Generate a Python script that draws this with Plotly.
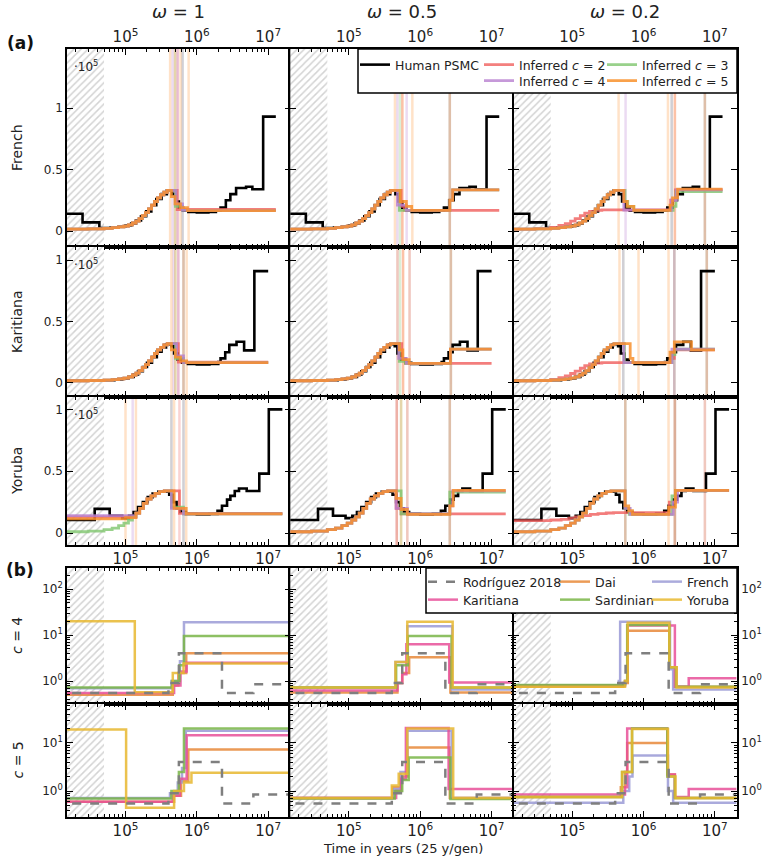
import plotly.graph_objects as go

# ------------------------------------------------------------------ data ---
OMEGAS = ["1", "0.5", "0.2"]
POPS_A = ["French", "Karitiana", "Yoruba"]
C_VALUES = [2, 3, 4, 5]
POPS_B = ["Dai", "French", "Karitiana", "Sardinian", "Yoruba"]

# Human PSMC (units of 1e5), step starts in years
FR_PSMC_T = [10000, 25000, 43000, 62000, 80000, 100000, 120000, 140000, 165000, 195000, 230000, 270000, 320000, 380000,
             450000, 500000, 560000, 640000, 760000, 1000000, 1450000, 1850000, 2150000, 2550000, 2950000, 3550000,
             4900000, 6000000, 8500000]
FR_PSMC_N = [0.14, 0.07, 0.025, 0.028, 0.035, 0.045, 0.06, 0.085, 0.12, 0.16, 0.21, 0.26, 0.30, 0.33,
             0.30, 0.24, 0.19, 0.165, 0.155, 0.15, 0.155, 0.165, 0.19, 0.25, 0.30, 0.35,
             0.36, 0.34, 0.93]
FR_END = 12800000

KA_PSMC_T = [10000, 50000, 70000, 90000, 110000, 130000, 150000, 175000, 200000, 235000, 275000, 320000, 370000,
             440000, 480000, 540000, 620000, 750000, 1000000, 1500000, 2000000, 2150000, 2500000, 2850000, 3600000,
             4600000, 6400000]
KA_PSMC_N = [0.02, 0.022, 0.028, 0.035, 0.05, 0.07, 0.095, 0.13, 0.165, 0.21, 0.255, 0.29, 0.315,
             0.30, 0.24, 0.19, 0.165, 0.155, 0.15, 0.155, 0.17, 0.2, 0.25, 0.31, 0.335,
             0.265, 0.91]
KA_END = 10000000

YO_PSMC_T = [10000, 37000, 60000, 90000, 112000, 130000, 150000, 175000, 205000, 240000, 290000, 410000, 460000,
             520000, 590000, 700000, 1000000, 1500000, 1950000, 2250000, 2650000, 2950000, 3400000, 3900000,
             5000000, 7500000, 10200000]
YO_PSMC_N = [0.105, 0.195, 0.14, 0.12, 0.14, 0.17, 0.21, 0.25, 0.29, 0.32, 0.335, 0.31, 0.25,
             0.2, 0.17, 0.155, 0.15, 0.155, 0.18, 0.22, 0.27, 0.3, 0.34, 0.36,
             0.34, 0.48, 1.0]
YO_END = 15800000

# smooth inferred rise (shared by all c) per population
FR_BASE_T = [10000, 30000, 50000, 65000, 80000, 95000, 110000, 125000, 140000, 155000, 172000, 190000, 210000,
             232000, 255000, 280000, 310000, 345000, 385000]
FR_BASE_N = [0.015, 0.018, 0.022, 0.027, 0.033, 0.04, 0.05, 0.065, 0.08, 0.1, 0.125, 0.15, 0.18,
             0.21, 0.24, 0.27, 0.295, 0.315, 0.33]
KA_BASE_T = [10000, 30000, 50000, 65000, 80000, 95000, 110000, 125000, 140000, 155000, 172000, 190000, 210000,
             232000, 255000, 280000, 310000, 345000, 385000]
KA_BASE_N = [0.018, 0.02, 0.023, 0.027, 0.033, 0.04, 0.05, 0.065, 0.08, 0.1, 0.125, 0.15, 0.18,
             0.21, 0.24, 0.27, 0.29, 0.31, 0.32]
YO_BASE_T = [10000, 30000, 50000, 65000, 80000, 95000, 110000, 125000, 140000, 158000, 178000, 200000, 228000,
             260000, 300000, 350000]
YO_BASE_N = [0.01, 0.015, 0.028, 0.04, 0.06, 0.08, 0.105, 0.13, 0.16, 0.2, 0.24, 0.275, 0.3,
             0.32, 0.335, 0.34]
# low smooth curves of c = 2 at omega = 0.2
FR_LOW_T = [10000, 30000, 50000, 65000, 80000, 95000, 110000, 130000, 150000, 175000, 210000, 260000]
FR_LOW_N = [0.015, 0.02, 0.03, 0.045, 0.06, 0.08, 0.1, 0.125, 0.145, 0.16, 0.168, 0.172]
KA_LOW_T = [10000, 30000, 50000, 65000, 80000, 95000, 110000, 130000, 150000, 175000, 210000, 260000]
KA_LOW_N = [0.018, 0.022, 0.03, 0.043, 0.058, 0.077, 0.097, 0.12, 0.14, 0.155, 0.162, 0.165]
YO_LOW_T = [10000, 50000, 70000, 90000, 110000, 140000, 180000, 230000, 300000, 380000]
YO_LOW_N = [0.1, 0.105, 0.11, 0.12, 0.13, 0.14, 0.15, 0.157, 0.162, 0.165]

# inferred curves: c -> (base, head steps, head end, tail steps)
INF_FR_W1 = {2: ("base", [], 0, [(530000, 0.175)]),
             3: ("base", [], 0, [(500000, 0.2), (630000, 0.168)]),
             4: ("base", [], 0, [(510000, 0.22), (630000, 0.168)]),
             5: ("base", [], 0, [(440000, 0.28), (495000, 0.22), (590000, 0.19), (740000, 0.165)])}
INF_KA_W1 = {2: ("base", [], 0, [(550000, 0.17)]),
             3: ("base", [], 0, [(500000, 0.2), (650000, 0.165)]),
             4: ("base", [], 0, [(520000, 0.22), (650000, 0.165)]),
             5: ("base", [], 0, [(440000, 0.27), (500000, 0.21), (590000, 0.18), (720000, 0.165)])}
INF_YO_W1 = {2: ("base", [(10000, 0.13)], 125000, [(570000, 0.158)]),
             3: ("base", [], 0, [(440000, 0.21), (650000, 0.155)]),
             4: ("base", [(10000, 0.14)], 126000, [(440000, 0.2), (650000, 0.155)]),
             5: ("base", [(10000, 0.115), (100000, 0.125)], 140000, [(480000, 0.2), (710000, 0.155)])}
INF_FR_W05 = {2: ("base", [], 0, [(540000, 0.2), (600000, 0.167)]),
              3: ("base", [], 0, [(510000, 0.167), (2600000, 0.25), (2850000, 0.335)]),
              4: ("base", [], 0, [(480000, 0.21), (640000, 0.167), (2600000, 0.25), (2850000, 0.335)]),
              5: ("base", [], 0, [(525000, 0.24), (640000, 0.2), (760000, 0.167), (2600000, 0.25), (2850000, 0.335)])}
INF_KA_W05 = {2: ("base", [], 0, [(550000, 0.2), (620000, 0.16)]),
              3: ("base", [], 0, [(510000, 0.175), (620000, 0.16), (2650000, 0.275)]),
              4: ("base", [], 0, [(500000, 0.2), (640000, 0.16), (2650000, 0.275)]),
              5: ("base", [], 0, [(510000, 0.27), (570000, 0.19), (700000, 0.16), (2650000, 0.275)])}
INF_YO_W05 = {2: ("base", [], 0, [(460000, 0.2), (540000, 0.155)]),
              3: ("base", [], 0, [(540000, 0.155), (2600000, 0.33)]),
              4: ("base", [], 0, [(460000, 0.2), (660000, 0.155), (2600000, 0.22), (2850000, 0.34)]),
              5: ("base", [], 0, [(460000, 0.28), (540000, 0.19), (660000, 0.15), (2600000, 0.22), (2900000, 0.345)])}
INF_FR_W02 = {2: ("low", [], 0, [(2400000, 0.25), (2800000, 0.335)]),
              3: ("base", [], 0, [(550000, 0.24), (600000, 0.2), (730000, 0.167), (2600000, 0.2), (2850000, 0.32)]),
              4: ("base", [], 0, [(530000, 0.17), (2450000, 0.25), (2900000, 0.335)]),
              5: ("base", [], 0, [(530000, 0.24), (590000, 0.2), (730000, 0.167), (2350000, 0.21), (2550000, 0.27), (3000000, 0.34)])}
INF_KA_W02 = {2: ("low", [], 0, [(2400000, 0.2), (2700000, 0.27)]),
              3: ("base", [], 0, [(540000, 0.165), (2500000, 0.23), (2750000, 0.275)]),
              4: ("base", [], 0, [(530000, 0.165), (2500000, 0.275)]),
              5: ("base", [], 0, [(650000, 0.2), (710000, 0.165), (2350000, 0.25), (2700000, 0.335), (4700000, 0.27)])}
INF_YO_W02 = {2: ("low", [], 0, [(2300000, 0.25), (2800000, 0.345)]),
              3: ("base", [], 0, [(550000, 0.2), (630000, 0.15), (2500000, 0.3), (2800000, 0.345)]),
              4: ("base", [], 0, [(550000, 0.2), (650000, 0.15), (2600000, 0.25), (3000000, 0.345)]),
              5: ("base", [], 0, [(550000, 0.22), (620000, 0.18), (700000, 0.15), (2250000, 0.21), (2800000, 0.345)])}

# change-point marks (years) per c
VL_FR_W1 = {2: [537000], 3: [495000, 631000], 4: [457000, 537000, 631000], 5: [422000, 495000, 590000, 767000]}
VL_KA_W1 = {2: [550000], 3: [500000, 650000], 4: [470000, 550000, 650000], 5: [440000, 500000, 650000, 720000]}
VL_YO_W1 = {2: [570000], 3: [440000, 650000], 4: [126000, 440000, 650000], 5: [100000, 140000, 480000, 710000]}
VL_FR_W05 = {2: [562000], 3: [520000, 2600000], 4: [479000, 646000, 2600000], 5: [443000, 562000, 776000, 2600000]}
VL_KA_W05 = {2: [575000], 3: [520000, 2690000], 4: [480000, 710000, 2690000], 5: [480000, 575000, 710000, 2690000]}
VL_YO_W05 = {2: [470000], 3: [540000, 2600000], 4: [470000, 660000, 2600000], 5: [470000, 540000, 660000, 2600000]}
VL_FR_W02 = {2: [2750000], 3: [2480000, 7240000], 4: [560000, 2480000, 7240000], 5: [447000, 2200000, 2750000, 7240000]}
VL_KA_W02 = {2: [2700000], 3: [520000, 2700000, 7700000], 4: [520000, 2700000, 7700000], 5: [460000, 850000, 2240000, 7700000]}
VL_YO_W02 = {2: [2750000], 3: [555000, 2750000], 4: [555000, 2750000, 7240000], 5: [555000, 2240000, 2750000, 7240000]}

# (b) inferred scaling per population, step starts in years
RODRIGUEZ_T = [10000, 400000, 560000, 2250000, 6200000]
RODRIGUEZ_N = [0.55, 0.9, 4.0, 0.55, 0.85]
B_END = 20000000
B_C4_W1 = {"Dai": [(10000, 0.5), (460000, 0.8), (550000, 1.5), (710000, 4.0)],
           "French": [(10000, 0.7), (440000, 1.0), (580000, 2.7), (660000, 19)],
           "Karitiana": [(10000, 0.55), (480000, 0.8), (590000, 1.6), (720000, 2.5)],
           "Sardinian": [(10000, 0.72), (450000, 1.0), (570000, 2.2), (660000, 9.5)],
           "Yoruba": [(10000, 20), (135000, 0.57), (460000, 1.5), (650000, 2.4)]}
B_C4_W05 = {"Dai": [(10000, 0.56), (480000, 0.9), (560000, 1.5), (700000, 3.3), (2650000, 0.56)],
            "French": [(10000, 0.72), (450000, 2.6), (660000, 15.5), (2800000, 0.65)],
            "Karitiana": [(10000, 0.62), (480000, 0.9), (560000, 1.4), (640000, 6.3), (2550000, 0.93)],
            "Sardinian": [(10000, 0.72), (460000, 2.2), (670000, 9.5), (2750000, 0.72)],
            "Yoruba": [(10000, 0.72), (450000, 2.6), (660000, 19.5), (2850000, 0.72)]}
B_C4_W02 = {"Dai": [(10000, 0.75), (520000, 0.9), (600000, 12.4), (2300000, 2.0), (2900000, 0.75)],
            "French": [(10000, 0.8), (450000, 1.0), (470000, 19.5), (2350000, 1.8), (2600000, 0.65)],
            "Karitiana": [(10000, 0.8), (550000, 1.0), (600000, 16), (2750000, 0.75), (4300000, 1.15)],
            "Sardinian": [(10000, 0.82), (550000, 1.0), (590000, 16.5), (2300000, 2.0), (2850000, 0.75)],
            "Yoruba": [(10000, 0.75), (550000, 1.0), (600000, 18.5), (2300000, 2.0), (2900000, 0.72)]}
B_C5_W1 = {"Dai": [(10000, 0.6), (480000, 0.8), (600000, 1.6), (760000, 7.3)],
           "French": [(10000, 0.72), (420000, 0.9), (540000, 1.5), (620000, 3.0), (700000, 18)],
           "Karitiana": [(10000, 0.6), (460000, 0.8), (580000, 1.8), (720000, 14.5)],
           "Sardinian": [(10000, 0.7), (440000, 1.0), (560000, 2.5), (660000, 20)],
           "Yoruba": [(10000, 19), (102000, 0.45), (480000, 1.0), (660000, 1.5), (840000, 2.4)]}
B_C5_W05 = {"Dai": [(10000, 0.72), (410000, 1.2), (530000, 2.0), (660000, 8.0), (2600000, 0.72)],
            "French": [(10000, 0.72), (430000, 1.1), (530000, 2.5), (660000, 18), (2750000, 0.72)],
            "Karitiana": [(10000, 0.72), (460000, 1.0), (540000, 1.8), (630000, 20.5), (2500000, 1.1)],
            "Sardinian": [(10000, 0.7), (440000, 1.0), (560000, 1.7), (690000, 5.0), (2650000, 0.68)],
            "Yoruba": [(10000, 0.72), (400000, 1.3), (500000, 2.3), (660000, 20), (2900000, 0.72)]}
B_C5_W02 = {"Dai": [(10000, 0.75), (480000, 1.2), (550000, 2.5), (590000, 10), (2150000, 2.2), (2750000, 0.72)],
            "French": [(10000, 0.57), (520000, 1.0), (630000, 2.0), (700000, 5.5), (2200000, 1.0), (2600000, 0.57)],
            "Karitiana": [(10000, 0.85), (550000, 1.2), (590000, 20), (2150000, 2.2), (2750000, 0.75), (4300000, 1.1)],
            "Sardinian": [(10000, 0.75), (500000, 2.5), (690000, 20), (2150000, 2.0), (2750000, 0.72)],
            "Yoruba": [(10000, 0.75), (500000, 2.5), (690000, 19.5), (2200000, 2.0), (2800000, 0.72)]}

HATCH_END = 50000

# ---------------------------------------------------------------- styles ---
FONT = "DejaVu Sans"
W, H = 776, 860


def px_x(x):
    return x / W


def px_y(y):
    return 1 - y / H


COLS_PX = [67, 290.3, 513.7, 737]
ROWS_PX = [(49, 247), (247, 397), (397, 545), (568, 704), (704, 817)]
YRANGES = [[-0.13, 1.48], [-0.114, 1.106], [-0.097, 1.1], [-0.5, 2.457], [-0.54, 1.81]]
XRANGE = [4.18, 7.31]
C_COL = {2: "#f0605e", 3: "#7fc66e", 4: "#b87fd0", 5: "#f8902c"}
C_RGB = {2: (240, 96, 94), 3: (127, 198, 110), 4: (184, 127, 208), 5: (255, 152, 56)}
C_OPAC = {2: 0.8, 3: 0.8, 4: 0.8, 5: 0.85}
B_COL = {"Dai": "#e8893a", "French": "#9c9cd6", "Karitiana": "#e8509a", "Sardinian": "#7ab648", "Yoruba": "#e8b830"}

POP_DATA = {
    "French": ((FR_PSMC_T, FR_PSMC_N, FR_END), (FR_BASE_T, FR_BASE_N), (FR_LOW_T, FR_LOW_N),
               [INF_FR_W1, INF_FR_W05, INF_FR_W02], [VL_FR_W1, VL_FR_W05, VL_FR_W02]),
    "Karitiana": ((KA_PSMC_T, KA_PSMC_N, KA_END), (KA_BASE_T, KA_BASE_N), (KA_LOW_T, KA_LOW_N),
                  [INF_KA_W1, INF_KA_W05, INF_KA_W02], [VL_KA_W1, VL_KA_W05, VL_KA_W02]),
    "Yoruba": ((YO_PSMC_T, YO_PSMC_N, YO_END), (YO_BASE_T, YO_BASE_N), (YO_LOW_T, YO_LOW_N),
               [INF_YO_W1, INF_YO_W05, INF_YO_W02], [VL_YO_W1, VL_YO_W05, VL_YO_W02]),
}
B_PANELS = [[B_C4_W1, B_C4_W05, B_C4_W02], [B_C5_W1, B_C5_W05, B_C5_W02]]

# legend entry placement: name -> (text left px, text centre y px)
LEG_POS_A = {"psmc": (395, 65), 2: (519, 65), 3: (642, 65), 4: (519, 81), 5: (642, 81)}
LEG_POS_B = {"Rodríguez 2018": (463, 582), "Dai": (595, 582), "French": (687, 582),
             "Karitiana": (463, 600), "Sardinian": (595, 600), "Yoruba": (687, 600)}
LEG_ID_A = {"psmc": "legend", 2: "legend2", 3: "legend3", 4: "legend4", 5: "legend5"}
LEG_ID_B = {"Rodríguez 2018": "legend6", "Dai": "legend7", "French": "legend8",
            "Karitiana": "legend9", "Sardinian": "legend10", "Yoruba": "legend11"}


def step_xy(ts, ns, end):
    return list(ts) + [end], list(ns) + [ns[-1]]


def build_curve(base, head, head_end, tail):
    bt, bn = base
    sw = tail[0][0]
    pts = list(head)
    if head:
        before = [n for t, n in zip(bt, bn) if t <= head_end]
        pts.append((head_end, before[-1] if before else bn[0]))
        pts += [(t, n) for t, n in zip(bt, bn) if head_end < t < sw]
    else:
        pts += [(t, n) for t, n in zip(bt, bn) if t < sw]
    pts += list(tail)
    return [p[0] for p in pts], [p[1] for p in pts]


def ax_names(r, c):
    n = r * 3 + c + 1
    s = "" if n == 1 else str(n)
    return "x" + s, "y" + s, "xaxis" + s, "yaxis" + s


fig = go.Figure()
shapes = []
layout_axes = {}
TICKFONT = dict(family=FONT, size=12, color="#222")
MINOR = dict(ticks="inside", ticklen=3, tickwidth=1, tickcolor="black", dtick="D1", showgrid=False)

for r in range(5):
    y0px, y1px = ROWS_PX[r]
    for c in range(3):
        xa, ya, xname, yname = ax_names(r, c)
        logy = r >= 3
        ylo, yhi = (1e-3, 1e4) if logy else (-1, 3)
        fig.add_trace(go.Scatter(x=[1000, HATCH_END, HATCH_END, 1000, 1000], y=[ylo, ylo, yhi, yhi, ylo],
                                 mode="none", fill="toself", fillcolor="rgba(0,0,0,0)",
                                 fillpattern=dict(shape="/", fgcolor="#a8a8a8", bgcolor="white", size=5, solidity=0.3),
                                 hoverinfo="skip", showlegend=False, xaxis=xa, yaxis=ya))
        xax = dict(type="log", range=XRANGE, domain=[px_x(COLS_PX[c]), px_x(COLS_PX[c + 1])], anchor=ya,
                   tickmode="linear", tick0=0, dtick=1, exponentformat="power",
                   showline=True, linecolor="black", linewidth=1.5, mirror="allticks",
                   ticks="inside", ticklen=6, tickwidth=1.2, tickcolor="black", minor=MINOR,
                   showgrid=False, zeroline=False, tickfont=TICKFONT)
        if r == 0:
            xax.update(side="top", showticklabels=True)
        elif r in (2, 4):
            xax.update(side="bottom", showticklabels=True)
        else:
            xax.update(showticklabels=False)
        yax = dict(range=YRANGES[r], domain=[px_y(y1px), px_y(y0px)], anchor=xa,
                   showline=True, linecolor="black", linewidth=1.5, mirror="allticks",
                   ticks="inside", ticklen=6, tickwidth=1.2, tickcolor="black",
                   showgrid=False, zeroline=False, tickfont=TICKFONT)
        if logy:
            yax.update(type="log", tickmode="array", tickvals=[1, 10, 100],
                       ticktext=["10<sup>0</sup>", "10<sup>1</sup>", "10<sup>2</sup>"], minor=MINOR,
                       showticklabels=(c != 1), side=("right" if c == 2 else "left"))
        else:
            yax.update(tickmode="array", tickvals=[0, 0.5, 1], ticktext=["0", "0.5", "1"],
                       showticklabels=(c == 0))
        layout_axes[xname] = xax
        layout_axes[yname] = yax

        if not logy:
            pop = POPS_A[r]
            (pt, pn, pend), base, low, infs, vls = POP_DATA[pop]
            for cv in C_VALUES:
                rr, gg, bb = C_RGB[cv]
                for t in vls[c][cv]:
                    shapes.append(dict(type="line", xref=xa, yref=ya + " domain", x0=t, x1=t, y0=0, y1=1,
                                       line=dict(color="rgba(%d,%d,%d,0.28)" % (rr, gg, bb), width=2.5),
                                       layer="below"))
            xs, ys = step_xy(pt, pn, pend)
            fig.add_trace(go.Scatter(x=xs, y=ys, mode="lines", line=dict(color="black", width=2.6, shape="hv"),
                                     name="Human PSMC", legend=LEG_ID_A["psmc"],
                                     showlegend=(r == 0 and c == 0), hoverinfo="skip", xaxis=xa, yaxis=ya))
            for cv in C_VALUES:
                bkey, head, head_end, tail = infs[c][cv]
                tx, ty = build_curve(base if bkey == "base" else low, head, head_end, tail)
                xs, ys = step_xy(tx, ty, pend)
                fig.add_trace(go.Scatter(x=xs, y=ys, mode="lines", opacity=C_OPAC[cv],
                                         line=dict(color=C_COL[cv], width=2.8, shape="hv"),
                                         name="Inferred <i>c</i> = %d" % cv, legend=LEG_ID_A[cv],
                                         showlegend=(r == 0 and c == 0), hoverinfo="skip", xaxis=xa, yaxis=ya))
        else:
            panel = B_PANELS[r - 3][c]
            first = (r == 3 and c == 0)
            for pop in POPS_B:
                pts = panel[pop]
                xs, ys = step_xy([p[0] for p in pts], [p[1] for p in pts], B_END)
                fig.add_trace(go.Scatter(x=xs, y=ys, mode="lines", opacity=0.85,
                                         line=dict(color=B_COL[pop], width=2.5, shape="hv"),
                                         name=pop, legend=LEG_ID_B[pop],
                                         showlegend=first, hoverinfo="skip", xaxis=xa, yaxis=ya))
            xs, ys = step_xy(RODRIGUEZ_T, RODRIGUEZ_N, B_END)
            fig.add_trace(go.Scatter(x=xs, y=ys, mode="lines",
                                     line=dict(color="#7f7f7f", width=2.5, dash="dash", shape="hv"),
                                     name="Rodríguez 2018", legend=LEG_ID_B["Rodríguez 2018"],
                                     showlegend=first, hoverinfo="skip", xaxis=xa, yaxis=ya))

# legend boxes
shapes.append(dict(type="rect", xref="paper", yref="paper", x0=px_x(358), x1=px_x(737), y0=px_y(93), y1=px_y(49),
                   line=dict(color="black", width=1.5), fillcolor="white", layer="above"))
shapes.append(dict(type="rect", xref="paper", yref="paper", x0=px_x(426), x1=px_x(737), y0=px_y(613), y1=px_y(568),
                   line=dict(color="black", width=1.5), fillcolor="white", layer="above"))


def leg(text_x, cy):
    return dict(x=px_x(text_x - 40), y=px_y(cy - 15), xanchor="left", yanchor="top", orientation="v",
                bgcolor="rgba(0,0,0,0)", borderwidth=0, font=dict(family=FONT, size=12.5, color="#222"),
                itemwidth=30, tracegroupgap=0)


legends = {}
for k, lid in LEG_ID_A.items():
    legends[lid] = leg(*LEG_POS_A[k])
for k, lid in LEG_ID_B.items():
    legends[lid] = leg(*LEG_POS_B[k])

annotations = []
for c, w in enumerate(OMEGAS):
    annotations.append(dict(text="<i>ω</i> = %s" % w, x=px_x((COLS_PX[c] + COLS_PX[c + 1]) / 2), y=px_y(12),
                            xref="paper", yref="paper", xanchor="center", yanchor="middle", showarrow=False,
                            font=dict(family=FONT, size=18, color="#222")))
row_labels = ["French", "Karitiana", "Yoruba", "<i>c</i> = 4", "<i>c</i> = 5"]
for r, lab in enumerate(row_labels):
    annotations.append(dict(text=lab, x=px_x(17), y=px_y((ROWS_PX[r][0] + ROWS_PX[r][1]) / 2), xref="paper",
                            yref="paper", xanchor="center", yanchor="middle", showarrow=False, textangle=-90,
                            font=dict(family=FONT, size=14, color="#222")))
for r in range(3):
    annotations.append(dict(text="·10<sup>5</sup>", x=px_x(72), y=px_y(ROWS_PX[r][0] + 17), xref="paper",
                            yref="paper", xanchor="left", yanchor="middle", showarrow=False,
                            font=dict(family=FONT, size=12, color="#222")))
annotations.append(dict(text="<b>(a)</b>", x=px_x(20), y=px_y(43), xref="paper", yref="paper", xanchor="center",
                        yanchor="middle", showarrow=False, font=dict(family=FONT, size=17, color="#111")))
annotations.append(dict(text="<b>(b)</b>", x=px_x(20), y=px_y(570), xref="paper", yref="paper", xanchor="center",
                        yanchor="middle", showarrow=False, font=dict(family=FONT, size=17, color="#111")))
annotations.append(dict(text="Time in years (25 y/gen)", x=px_x(403), y=px_y(848), xref="paper", yref="paper",
                        xanchor="center", yanchor="middle", showarrow=False,
                        font=dict(family=FONT, size=13, color="#222")))

fig.update_layout(width=W, height=H, margin=dict(l=0, r=0, t=0, b=0), plot_bgcolor="white",
                  paper_bgcolor="white", font=dict(family=FONT, size=12, color="#222"),
                  shapes=shapes, annotations=annotations, **legends, **layout_axes)

# the page body margin would push the 776x860 figure off the window edge
fig.write_html("out.html", config={"displayModeBar": False},
               post_script="document.body.style.margin='0px';")
